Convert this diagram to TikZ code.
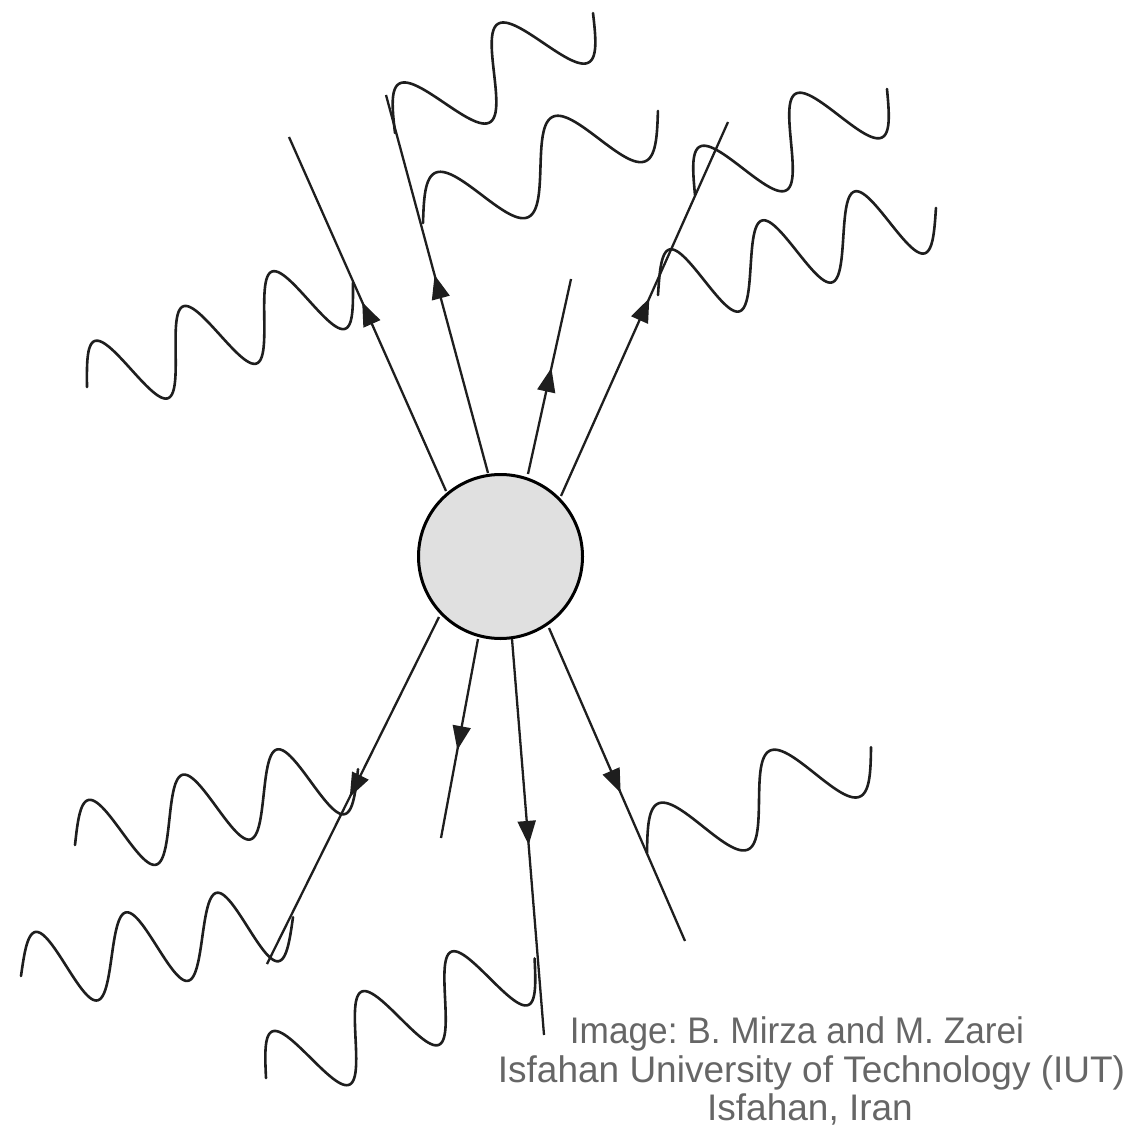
\documentclass[tikz,border=0pt]{standalone}
\usepackage{fontspec}
\newfontfamily\capfont{Liberation Sans}
\usetikzlibrary{arrows.meta,decorations.markings}
\definecolor{captiongray}{RGB}{102,102,102}
\definecolor{blobgray}{RGB}{224,224,224}
\definecolor{inkline}{RGB}{30,30,30}
\frenchspacing
\newcommand\drawphoton[4]{%
  \begin{scope}[shift={(#1)}, rotate=#2]
    \draw[wave] plot[domain=0:#3, samples=180, smooth] (\x,{40*sin((\x/#3)*360*#4)});
  \end{scope}}
\begin{document}
\begin{tikzpicture}[x=1pt,y=1pt,
  wave/.style={draw=inkline, line width=2.6pt, line cap=round},
  fermion/.style={draw=inkline, line width=2.3pt, postaction={decorate},
    decoration={markings, mark=at position #1 with {\arrow[inkline]{Triangle[length=24pt,width=18pt]}}}},
  blobstyle/.style={circle, draw=black, fill=blobgray, line width=3pt, minimum size=164pt, inner sep=0pt},
  captext/.style={text=captiongray, font=\capfont\fontsize{37}{38}\selectfont, inner sep=0pt, anchor=base}]
\useasboundingbox (0,0) rectangle (1128,-1131);

% fermion line end points
\coordinate (i1) at (446,-491); \coordinate (o1) at (289,-137);
\coordinate (i2) at (488,-473); \coordinate (o2) at (386,-95);
\coordinate (i3) at (528,-474); \coordinate (o3) at (571,-279);
\coordinate (i4) at (561,-496); \coordinate (o4) at (728,-122);
\coordinate (i5) at (439,-617); \coordinate (o5) at (267,-964);
\coordinate (i6) at (478,-639); \coordinate (o6) at (441,-838);
\coordinate (i7) at (512,-639); \coordinate (o7) at (544,-1035);
\coordinate (i8) at (549,-628); \coordinate (o8) at (685,-941);

% photon start points
\coordinate (gA) at (395,-133);
\coordinate (gB) at (423,-223);
\coordinate (gC) at (695,-195);
\coordinate (gD) at (658,-295);
\coordinate (gE) at (75,-845);
\coordinate (gF) at (21,-976);
\coordinate (gG) at (266,-1078);
\coordinate (gH) at (647,-853);
\coordinate (gI) at (87,-387);

\drawphoton{gA}{31.2}{231.5}{2}
\drawphoton{gB}{25.5}{260.3}{2}
\drawphoton{gC}{28.9}{219.3}{2}
\drawphoton{gD}{17.4}{291.3}{3}
\drawphoton{gE}{15.0}{293}{3}
\drawphoton{gF}{12.2}{278.3}{3}
\drawphoton{gG}{24}{294}{3}
\drawphoton{gH}{25.3}{247.8}{2}
\drawphoton{gI}{21.4}{285.6}{3}

\draw[fermion=0.534] (i1) -- (o1);
\draw[fermion=0.524] (i2) -- (o2);
\draw[fermion=0.544] (i3) -- (o3);
\draw[fermion=0.529] (i4) -- (o4);
\draw[fermion=0.519] (i5) -- (o5);
\draw[fermion=0.558] (i6) -- (o6);
\draw[fermion=0.520] (i7) -- (o7);
\draw[fermion=0.527] (i8) -- (o8);

\node[blobstyle] (blob) at (500.5,-556.5) {};

\node[captext, xscale=0.952, transform shape] (cap1) at (797,-1043) {Image: B. Mirza and M. Zarei};
\node[captext] (cap2) at (811.5,-1082) {Isfahan University of Technology (IUT)};
\node[captext] (cap3) at (810,-1120) {Isfahan, Iran};
\end{tikzpicture}
\end{document}
